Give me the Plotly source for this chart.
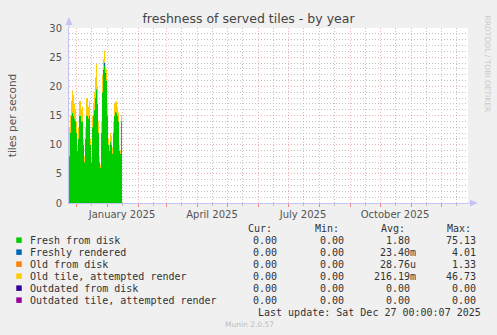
import pandas as pd
import plotly.graph_objects as go

# ---------------- data ----------------
start_date = "2024-11-24"
fresh_from_disk = [8, 12, 15, 15.5, 15, 14.5, 14, 12, 9, 11, 15, 15, 14, 14, 10, 7, 11, 15, 15, 14.5,
                   15, 10, 7, 13, 15, 16, 18, 19.5, 17, 12, 7, 6, 12, 19, 22.5, 23.5, 22, 21, 15, 10,
                   9, 10.5, 10, 8.5, 12, 15, 15.6, 15.5, 15, 14, 9, 8.5, 14, 0, 0, 0, 0, 0]
freshly_rendered = [0] * 34 + [0.3, 0.6, 0.3] + [0] * 21
old_from_disk = [0] * 58
old_tile_attempted = [5, 3, 2.5, 3.8, 3.5, 2.5, 2, 2, 1, 2, 2.5, 2.5, 2, 2.5, 1, 1, 2, 3, 3, 2,
                      2.5, 1, 1, 2, 2, 3, 3.5, 4.3, 3, 2, 1, 0.5, 2, 3, 1.9, 2.0, 1.4, 2, 2, 1,
                      1, 1.5, 1.5, 1, 2, 2, 1.7, 2, 1.5, 1.5, 1, 0.5, 1, 0, 0, 0, 0, 0]
outdated_from_disk = [0] * 58
outdated_attempted = [0] * 58

series_names = ["Fresh from disk", "Freshly rendered", "Old from disk",
                "Old tile, attempted render", "Outdated from disk",
                "Outdated tile, attempted render"]
series_values = [fresh_from_disk, freshly_rendered, old_from_disk,
                 old_tile_attempted, outdated_from_disk, outdated_attempted]
series_colors = ["#00CC00", "#0066B3", "#FF8000", "#FFCC00", "#330099", "#990099"]

cur_vals = ["0.00", "0.00", "0.00", "0.00", "0.00", "0.00"]
min_vals = ["0.00", "0.00", "0.00", "0.00", "0.00", "0.00"]
avg_vals = ["1.80", "23.40m", "28.76u", "216.19m", "0.00", "0.00"]
max_vals = ["75.13", "4.01", "1.33", "46.73", "0.00", "0.00"]

month_label_dates = ["2025-01-16", "2025-04-16", "2025-07-16", "2025-10-16"]
month_labels = ["January 2025", "April 2025", "July 2025", "October 2025"]

x_range = ["2024-11-24", "2025-12-28"]
dates = pd.date_range(start_date, periods=len(fresh_from_disk), freq="D")

# ---------------- figure ----------------
W, H = 497, 335
PL, PR, PT, PB = 67, 468, 28, 203


def xp(px):
    return (px - PL) / (PR - PL)


def yp(py):
    return (PB - py) / (PB - PT)


fig = go.Figure()
for name, vals, col in zip(series_names, series_values, series_colors):
    fig.add_trace(go.Scatter(
        x=dates, y=vals, name=name, stackgroup="one", mode="lines",
        line=dict(width=0, color=col, shape="hv"), fillcolor=col,
        showlegend=False, hoverinfo="skip"))

# mid-month label ticks (gray minor grid) + month-start red grid
mid_months = pd.date_range("2024-11-16", "2025-12-31", freq="MS") + pd.Timedelta(days=15)
tick_text = []
for d in mid_months:
    s = d.strftime("%Y-%m-%d")
    tick_text.append(month_labels[month_label_dates.index(s)] if s in month_label_dates else "")

red_grid = "rgba(235,90,90,0.45)"
gray_grid = "rgba(175,175,175,0.75)"
axis_col = "#C4C4F4"
dots = "1px,2px"

fig.update_layout(
    width=W, height=H,
    margin=dict(l=PL, r=W - PR, t=PT, b=H - PB),
    paper_bgcolor="#F0F0F0", plot_bgcolor="#FFFFFF",
    font=dict(family="DejaVu Sans", size=10, color="#555555"),
    title=dict(text="freshness of served tiles - by year", x=0.5, xanchor="center",
               y=1 - 19 / H, yanchor="middle",
               font=dict(family="DejaVu Sans", size=12.5, color="#444444")),
    xaxis=dict(type="date", range=x_range, tickvals=list(mid_months), ticktext=tick_text,
               showgrid=True, gridcolor=gray_grid, griddash=dots, gridwidth=1,
               ticks="outside", ticklen=2, tickcolor="#BBBBBB",
               showline=True, linecolor=axis_col, linewidth=1, zeroline=False,
               tickfont=dict(family="DejaVu Sans", size=10, color="#555555"),
               minor=dict(dtick="M1", tick0="2024-12-01", showgrid=True, gridcolor=red_grid,
                          griddash=dots, gridwidth=1, ticks="outside", ticklen=3,
                          tickcolor="rgba(255,80,80,0.7)"),
               fixedrange=True),
    yaxis=dict(range=[0, 30], dtick=5, tick0=0, showgrid=True, gridcolor=red_grid,
               griddash=dots, gridwidth=1, zeroline=False,
               showline=True, linecolor=axis_col, linewidth=1,
               ticks="", ticklabelstandoff=4,
               tickfont=dict(family="DejaVu Sans", size=10, color="#555555"),
               title=dict(text="tiles per second", standoff=30,
                          font=dict(family="DejaVu Sans", size=10.5, color="#555555")),
               minor=dict(dtick=1, showgrid=True, gridcolor=gray_grid, griddash=dots,
                          gridwidth=1),
               fixedrange=True),
)

shapes = []
# axis extensions and arrows
shapes.append(dict(type="line", xref="paper", yref="paper", x0=xp(PL), x1=xp(PL),
                   y0=1, y1=yp(20), line=dict(color=axis_col, width=1), layer="above"))
shapes.append(dict(type="path", xref="paper", yref="paper",
                   path=f"M {xp(63.5)} {yp(25)} L {xp(70.5)} {yp(25)} L {xp(67)} {yp(17)} Z",
                   fillcolor=axis_col, line=dict(width=0)))
shapes.append(dict(type="line", xref="paper", yref="paper", x0=1, x1=xp(476),
                   y0=0, y1=0, line=dict(color=axis_col, width=1), layer="above"))
shapes.append(dict(type="path", xref="paper", yref="paper",
                   path=f"M {xp(470)} {yp(199.5)} L {xp(470)} {yp(206.5)} L {xp(478)} {yp(203)} Z",
                   fillcolor=axis_col, line=dict(width=0)))

ann = []
mono = "DejaVu Sans Mono"
txt_col = "#333333"
row_y0, row_dy = 240, 12
col_ends = [283.3, 350.0, 416.7, 482.7]
headers = ["Cur:", "Min:", "Avg:", "Max:"]
for h, ce in zip(headers, col_ends):
    ann.append(dict(text=h, x=xp(ce - 11), y=yp(228), xref="paper", yref="paper",
                    xanchor="right", yanchor="middle", showarrow=False, borderpad=0,
                    font=dict(family=mono, size=10, color=txt_col)))


def val_x(v, ce):
    return ce if v[-1] in "mu" else ce - 6


for i, (name, col) in enumerate(zip(series_names, series_colors)):
    y = row_y0 + i * row_dy
    shapes.append(dict(type="rect", xref="paper", yref="paper",
                       x0=xp(14), x1=xp(19.5), y0=yp(y + 2.9), y1=yp(y - 2.6),
                       fillcolor=col, line=dict(width=0)))
    ann.append(dict(text=name, x=xp(26.5), y=yp(y), xref="paper", yref="paper",
                    xanchor="left", yanchor="middle", showarrow=False, borderpad=0,
                    font=dict(family=mono, size=10, color=txt_col)))
    for vals, ce in zip([cur_vals, min_vals, avg_vals, max_vals], col_ends):
        v = vals[i]
        ann.append(dict(text=v, x=xp(val_x(v, ce)), y=yp(y), xref="paper", yref="paper",
                        xanchor="right", yanchor="middle", showarrow=False, borderpad=0,
                        font=dict(family=mono, size=10, color=txt_col)))

ann.append(dict(text="Last update: Sat Dec 27 00:00:07 2025", x=xp(482.5), y=yp(312),
                xref="paper", yref="paper", xanchor="right", yanchor="middle",
                showarrow=False, borderpad=0, font=dict(family=mono, size=10, color=txt_col)))
ann.append(dict(text="Munin 2.0.57", x=xp(248), y=yp(324), xref="paper", yref="paper",
                xanchor="center", yanchor="middle", showarrow=False, borderpad=0,
                font=dict(family="DejaVu Sans", size=7.5, color="#BBBBBB")))
ann.append(dict(text="RRDTOOL / TOBI OETIKER", x=xp(488), y=yp(15), xref="paper", yref="paper",
                xanchor="center", yanchor="top", textangle=90, showarrow=False, borderpad=0,
                font=dict(family="DejaVu Sans", size=7.5, color="#C8C8C8")))

fig.update_layout(shapes=shapes, annotations=ann)
fig.write_html("out.html", config={"displayModeBar": False})
